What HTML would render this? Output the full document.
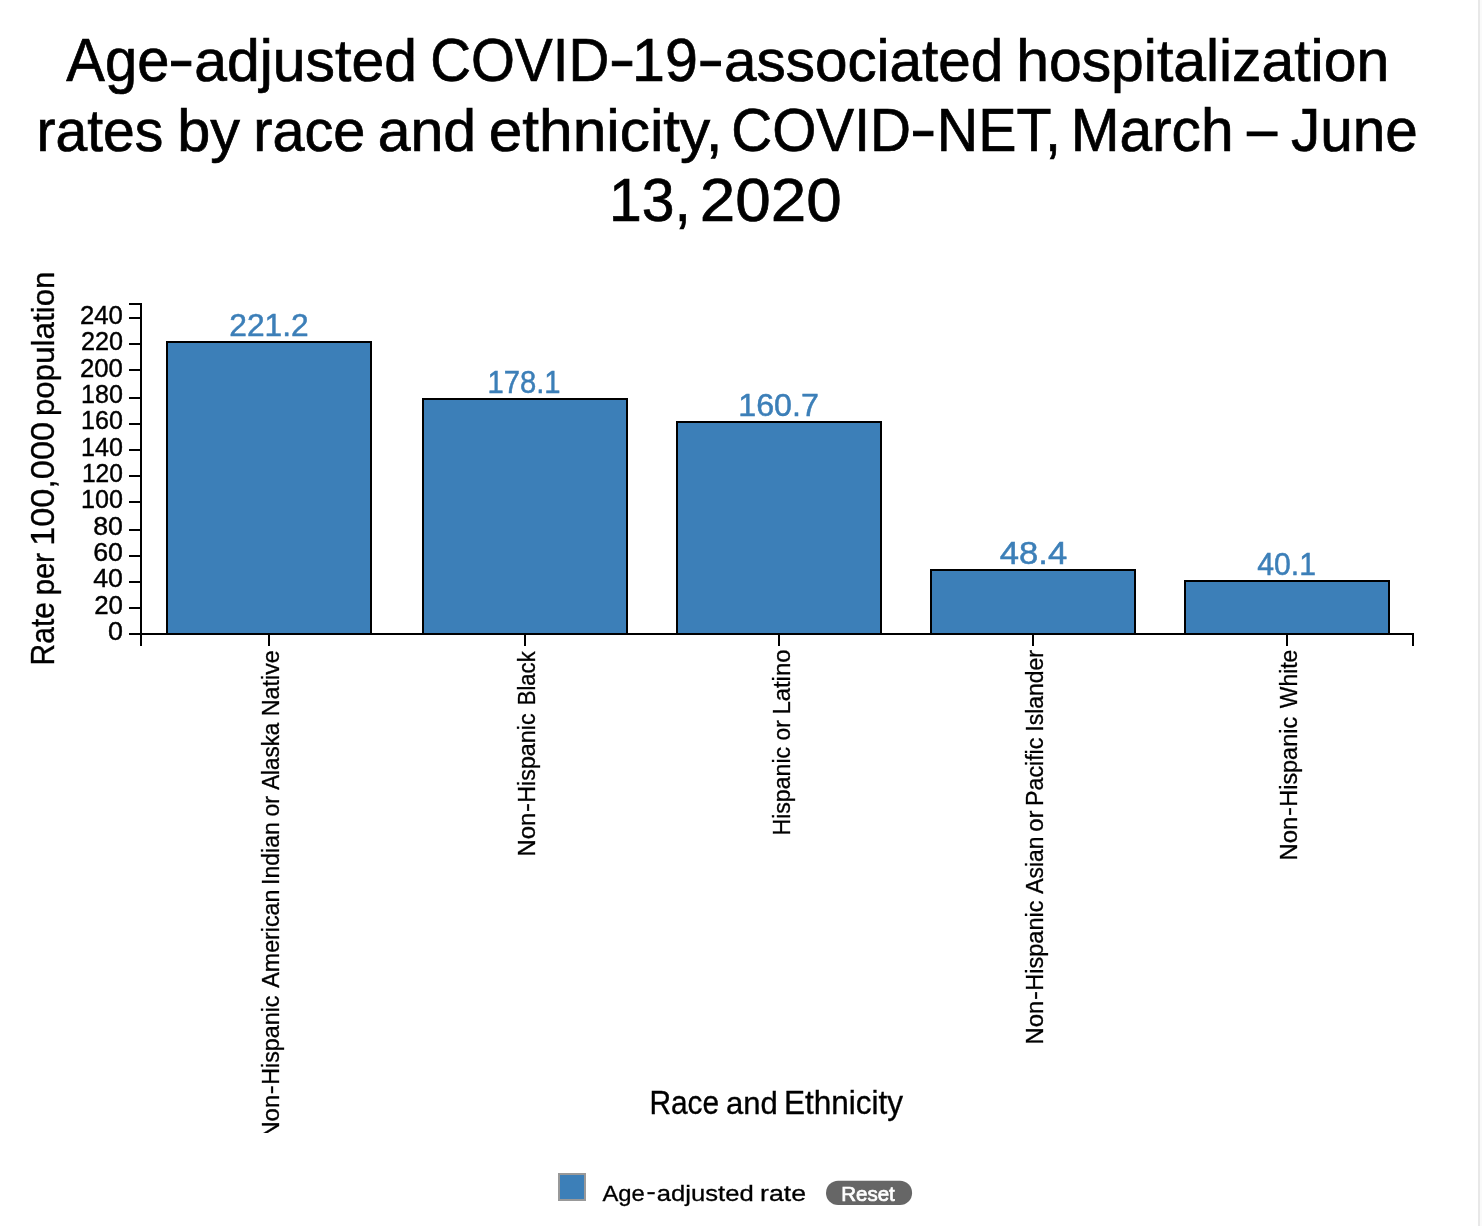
<!DOCTYPE html>
<html lang="en">
<head>
<meta charset="utf-8">
<title>Age-adjusted COVID-19-associated hospitalization rates by race and ethnicity, COVID-NET, March – June 13, 2020</title>
<style>
html,body{margin:0;padding:0;background:#fff;overflow:hidden}
body{width:1482px;height:1226px;position:relative;font-family:"Liberation Sans",Arial,Helvetica,sans-serif}
svg{position:absolute;left:0;top:0;display:block}
svg text{font-family:"Liberation Sans",Arial,Helvetica,sans-serif}
.title{stroke:#000;stroke-width:.7}
.axis path,.axis line{fill:none;stroke:#000;stroke-width:2;shape-rendering:crispEdges}
.axis text{font-size:25.2px;stroke:#000;stroke-width:.4}
.bar{fill:#3c7fb8;stroke:#000;stroke-width:2;shape-rendering:crispEdges}
.barlabel{font-size:32px;fill:#3c7fb8;stroke:#3c7fb8;stroke-width:.5}
.x.axis text{font-size:23.3px;stroke-width:.3}
.axis-label{stroke:#000;stroke-width:.35}
.legend text{font-size:22.8px;stroke:#000;stroke-width:.3}
.legend rect{fill:#3c7fb8;stroke:#999;stroke-width:2;shape-rendering:crispEdges}
.reset rect{fill:#666}
.reset text{font-size:20.2px;fill:#fff;stroke:#fff;stroke-width:.7}
.scroll{position:absolute;top:0;right:0;width:2px;height:1226px;background:#fafafa;border-left:2px solid #e8e8e8}
</style>
</head>
<body>
<svg width="1482" height="1226" viewBox="0 0 1482 1226">
<defs><clipPath id="chartclip"><rect x="0" y="250" width="1478" height="883"/></clipPath></defs>

<g class="title">
<text><tspan x="66.35" y="80.8" font-size="60.8" textLength="103.04" lengthAdjust="spacingAndGlyphs">Age</tspan><tspan x="168.05" y="79.8" font-size="61" textLength="26.43" lengthAdjust="spacingAndGlyphs">-</tspan><tspan x="194.32" y="80.8" font-size="58.3" textLength="222.58" lengthAdjust="spacingAndGlyphs">adjusted</tspan> <tspan x="430.22" y="80.8" font-size="62" textLength="179" lengthAdjust="spacingAndGlyphs">COVID</tspan><tspan x="608.71" y="79.8" font-size="61" textLength="26.7" lengthAdjust="spacingAndGlyphs">-</tspan><tspan x="632.08" y="80.8" font-size="62" textLength="65.8" lengthAdjust="spacingAndGlyphs">19</tspan><tspan x="697.29" y="79.8" font-size="61" textLength="26.83" lengthAdjust="spacingAndGlyphs">-</tspan><tspan x="724.04" y="80.8" font-size="58.3" textLength="279.23" lengthAdjust="spacingAndGlyphs">associated</tspan> <tspan x="1016.21" y="80.8" font-size="58.3" textLength="372.92" lengthAdjust="spacingAndGlyphs">hospitalization</tspan></text>
<text><tspan x="36.44" y="150.8" font-size="58.3" textLength="126.79" lengthAdjust="spacingAndGlyphs">rates</tspan> <tspan x="177.17" y="150.8" font-size="58.3" textLength="62.77" lengthAdjust="spacingAndGlyphs">by</tspan> <tspan x="253.19" y="150.8" font-size="58.3" textLength="112.24" lengthAdjust="spacingAndGlyphs">race</tspan> <tspan x="377.71" y="150.8" font-size="58.3" textLength="98.47" lengthAdjust="spacingAndGlyphs">and</tspan> <tspan x="488.78" y="150.8" font-size="58.3" textLength="233.81" lengthAdjust="spacingAndGlyphs">ethnicity,</tspan> <tspan x="731.31" y="150.8" font-size="62" textLength="179.62" lengthAdjust="spacingAndGlyphs">COVID</tspan><tspan x="910.13" y="149.8" font-size="61" textLength="26.56" lengthAdjust="spacingAndGlyphs">-</tspan><tspan x="936.73" y="150.8" font-size="62" textLength="124.28" lengthAdjust="spacingAndGlyphs">NET,</tspan> <tspan x="1070.63" y="150.8" font-size="60.8" textLength="162.9" lengthAdjust="spacingAndGlyphs">March</tspan> <tspan x="1246.95" y="149.8" font-size="61" textLength="30.24" lengthAdjust="spacingAndGlyphs">–</tspan> <tspan x="1290.89" y="150.8" font-size="60.8" textLength="126.9" lengthAdjust="spacingAndGlyphs">June</tspan></text>
<text><tspan x="609" y="220.8" font-size="62" textLength="81.89" lengthAdjust="spacingAndGlyphs">13,</tspan> <tspan x="699.76" y="220.8" font-size="62" textLength="141.98" lengthAdjust="spacingAndGlyphs">2020</tspan></text>
</g>
<g class="chart" clip-path="url(#chartclip)">
<g class="bars">
<rect class="bar" x="167" y="342" width="204" height="292"/>
<text class="barlabel"><tspan x="229.27" y="336" textLength="79.45" lengthAdjust="spacingAndGlyphs">221.2</tspan></text>
<rect class="bar" x="423" y="399" width="204" height="235"/>
<text class="barlabel"><tspan x="487.42" y="393" textLength="73.12" lengthAdjust="spacingAndGlyphs">178.1</tspan></text>
<rect class="bar" x="677" y="422" width="204" height="212"/>
<text class="barlabel"><tspan x="738.24" y="416" textLength="80.6" lengthAdjust="spacingAndGlyphs">160.7</tspan></text>
<rect class="bar" x="931" y="570" width="204" height="64"/>
<text class="barlabel"><tspan x="999.77" y="564" textLength="67.37" lengthAdjust="spacingAndGlyphs">48.4</tspan></text>
<rect class="bar" x="1185" y="581" width="204" height="53"/>
<text class="barlabel"><tspan x="1257.21" y="575" textLength="58.75" lengthAdjust="spacingAndGlyphs">40.1</tspan></text>
</g>
<g class="axis y">
<path d="M129,304H141V634H129"/>
<line x1="129" x2="141" y1="634" y2="634"/><text><tspan x="108.03" y="640" textLength="14.95" lengthAdjust="spacingAndGlyphs">0</tspan></text>
<line x1="129" x2="141" y1="608" y2="608"/><text><tspan x="94.17" y="613.67" textLength="28.79" lengthAdjust="spacingAndGlyphs">20</tspan></text>
<line x1="129" x2="141" y1="582" y2="582"/><text><tspan x="93.24" y="587.33" textLength="29.76" lengthAdjust="spacingAndGlyphs">40</tspan></text>
<line x1="129" x2="141" y1="556" y2="556"/><text><tspan x="93.24" y="561" textLength="29.76" lengthAdjust="spacingAndGlyphs">60</tspan></text>
<line x1="129" x2="141" y1="530" y2="530"/><text><tspan x="93.24" y="534.67" textLength="29.76" lengthAdjust="spacingAndGlyphs">80</tspan></text>
<line x1="129" x2="141" y1="502" y2="502"/><text><tspan x="81.01" y="508.33" textLength="41.92" lengthAdjust="spacingAndGlyphs">100</tspan></text>
<line x1="129" x2="141" y1="476" y2="476"/><text><tspan x="81.95" y="482" textLength="40.95" lengthAdjust="spacingAndGlyphs">120</tspan></text>
<line x1="129" x2="141" y1="450" y2="450"/><text><tspan x="81.11" y="455.67" textLength="41.82" lengthAdjust="spacingAndGlyphs">140</tspan></text>
<line x1="129" x2="141" y1="424" y2="424"/><text><tspan x="81.11" y="429.33" textLength="41.82" lengthAdjust="spacingAndGlyphs">160</tspan></text>
<line x1="129" x2="141" y1="398" y2="398"/><text><tspan x="81.11" y="403" textLength="41.82" lengthAdjust="spacingAndGlyphs">180</tspan></text>
<line x1="129" x2="141" y1="370" y2="370"/><text><tspan x="79.98" y="376.67" textLength="42.98" lengthAdjust="spacingAndGlyphs">200</tspan></text>
<line x1="129" x2="141" y1="344" y2="344"/><text><tspan x="80.9" y="350.33" textLength="42.03" lengthAdjust="spacingAndGlyphs">220</tspan></text>
<line x1="129" x2="141" y1="318" y2="318"/><text><tspan x="79.98" y="324" textLength="42.98" lengthAdjust="spacingAndGlyphs">240</tspan></text>
</g>
<g class="axis x">
<path d="M141,646V634H1413V646"/>
<line x1="269" x2="269" y1="634" y2="646"/><text transform="translate(279.3,0) rotate(-90)"><tspan x="-1138.6" y="0" textLength="43.74" lengthAdjust="spacingAndGlyphs">Non</tspan><tspan x="-1094.22" y="-1.5" textLength="9.06" lengthAdjust="spacingAndGlyphs">-</tspan><tspan x="-1084.85" y="0" textLength="89.34" lengthAdjust="spacingAndGlyphs">Hispanic</tspan> <tspan x="-987.65" y="0" textLength="98.1" lengthAdjust="spacingAndGlyphs">American</tspan> <tspan x="-885.03" y="0" textLength="62.96" lengthAdjust="spacingAndGlyphs">Indian</tspan> <tspan x="-816.53" y="0" textLength="20.39" lengthAdjust="spacingAndGlyphs">or</tspan> <tspan x="-789.85" y="0" textLength="67.14" lengthAdjust="spacingAndGlyphs">Alaska</tspan> <tspan x="-716.25" y="0" textLength="66.05" lengthAdjust="spacingAndGlyphs">Native</tspan></text>
<line x1="525" x2="525" y1="634" y2="646"/><text transform="translate(535.4,0) rotate(-90)"><tspan x="-856.5" y="0" textLength="43.74" lengthAdjust="spacingAndGlyphs">Non</tspan><tspan x="-812.12" y="-1.5" textLength="9.06" lengthAdjust="spacingAndGlyphs">-</tspan><tspan x="-802.75" y="0" textLength="89.34" lengthAdjust="spacingAndGlyphs">Hispanic</tspan> <tspan x="-705.35" y="0" textLength="54.07" lengthAdjust="spacingAndGlyphs">Black</tspan></text>
<line x1="779" x2="779" y1="634" y2="646"/><text transform="translate(789.6,0) rotate(-90)"><tspan x="-835.53" y="0" textLength="88.62" lengthAdjust="spacingAndGlyphs">Hispanic</tspan> <tspan x="-740.53" y="0" textLength="20.28" lengthAdjust="spacingAndGlyphs">or</tspan> <tspan x="-714.6" y="0" textLength="65.07" lengthAdjust="spacingAndGlyphs">Latino</tspan></text>
<line x1="1033" x2="1033" y1="634" y2="646"/><text transform="translate(1043.4,0) rotate(-90)"><tspan x="-1044.4" y="0" textLength="43.74" lengthAdjust="spacingAndGlyphs">Non</tspan><tspan x="-1000.02" y="-1.5" textLength="9.06" lengthAdjust="spacingAndGlyphs">-</tspan><tspan x="-990.67" y="0" textLength="90.06" lengthAdjust="spacingAndGlyphs">Hispanic</tspan> <tspan x="-893.65" y="0" textLength="57.16" lengthAdjust="spacingAndGlyphs">Asian</tspan> <tspan x="-831.67" y="0" textLength="21.15" lengthAdjust="spacingAndGlyphs">or</tspan> <tspan x="-806.04" y="0" textLength="68.42" lengthAdjust="spacingAndGlyphs">Pacific</tspan> <tspan x="-731.72" y="0" textLength="81.65" lengthAdjust="spacingAndGlyphs">Islander</tspan></text>
<line x1="1287" x2="1287" y1="634" y2="646"/><text transform="translate(1297.4,0) rotate(-90)"><tspan x="-860.5" y="0" textLength="43.74" lengthAdjust="spacingAndGlyphs">Non</tspan><tspan x="-816.12" y="-1.5" textLength="9.06" lengthAdjust="spacingAndGlyphs">-</tspan><tspan x="-806.76" y="0" textLength="89.86" lengthAdjust="spacingAndGlyphs">Hispanic</tspan> <tspan x="-708.15" y="0" textLength="58.43" lengthAdjust="spacingAndGlyphs">White</tspan></text>
</g>
<text transform="translate(54.3,0) rotate(-90)" class="axis-label y-axis-label"><tspan x="-665.39" y="0" font-size="32.6" textLength="63.4" lengthAdjust="spacingAndGlyphs">Rate</tspan> <tspan x="-595.36" y="0" font-size="31.9" textLength="42.27" lengthAdjust="spacingAndGlyphs">per</tspan> <tspan x="-545.8" y="0" font-size="33.4" textLength="123.77" lengthAdjust="spacingAndGlyphs">100,000</tspan> <tspan x="-416.09" y="0" font-size="31.9" textLength="144.56" lengthAdjust="spacingAndGlyphs">population</tspan></text>
<text class="axis-label x-axis-label"><tspan x="649.43" y="1114" font-size="32.6" textLength="69.67" lengthAdjust="spacingAndGlyphs">Race</tspan> <tspan x="726.1" y="1114" font-size="31.9" textLength="51.78" lengthAdjust="spacingAndGlyphs">and</tspan> <tspan x="783.95" y="1114" font-size="32.4" textLength="119.18" lengthAdjust="spacingAndGlyphs">Ethnicity</tspan></text>
</g>
<g class="legend">
<rect x="559" y="1174" width="26" height="26"/>
<text><tspan x="602.45" y="1200.7" textLength="42.39" lengthAdjust="spacingAndGlyphs">Age</tspan><tspan x="646.43" y="1199.2" textLength="9.24" lengthAdjust="spacingAndGlyphs">-</tspan><tspan x="656.83" y="1200.7" textLength="96.88" lengthAdjust="spacingAndGlyphs">adjusted</tspan> <tspan x="760.11" y="1200.7" textLength="45.96" lengthAdjust="spacingAndGlyphs">rate</tspan></text>
</g>
<g class="reset">
<rect x="826" y="1180.8" width="86.1" height="24.3" rx="12.15" ry="12.15"/>
<text><tspan x="841.22" y="1200.8" textLength="53.58" lengthAdjust="spacingAndGlyphs">Reset</tspan></text>
</g>
</svg>
<div class="scroll"></div>
</body>
</html>
